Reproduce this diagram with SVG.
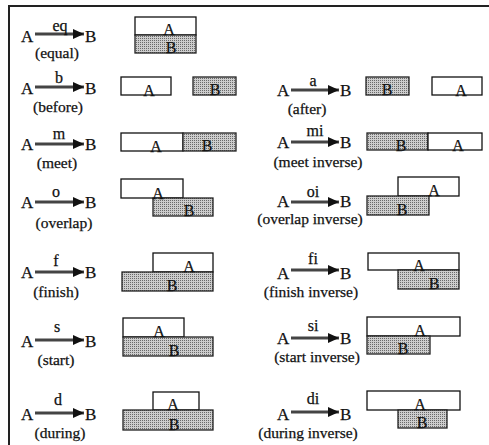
<svg xmlns="http://www.w3.org/2000/svg" width="489" height="445" viewBox="0 0 489 445">
<defs>
<pattern id="dots" width="2" height="2" patternUnits="userSpaceOnUse">
<rect width="2" height="2" fill="#cdcdcd"/>
<rect width="1" height="1" fill="#6a6a6a"/>
</pattern>
<marker id="ah" markerUnits="userSpaceOnUse" markerWidth="12" markerHeight="10" refX="11" refY="5" orient="auto">
<path d="M0,0 L11,5 L0,10 Z" fill="#111"/>
</marker>
</defs>
<style>
text{font-family:"Liberation Serif","Times New Roman",serif;fill:#111;stroke:#111;stroke-width:0.25}
.big{font-size:17px}
.lab{font-size:16px;text-anchor:middle}
.par{font-size:15.5px;text-anchor:middle}
.in{font-size:16px;text-anchor:middle}
.ra{fill:#fff;stroke:#111;stroke-width:1.3}
.rb{fill:url(#dots);stroke:#222;stroke-width:1.3}
.arr{stroke:#444;stroke-width:3.2;fill:none;marker-end:url(#ah)}
.frame{stroke:#222;stroke-width:2;fill:none}
</style>
<path class="frame" d="M9,445 V6 H489"/>
<g id="connectors">
<line class="arr" x1="35" y1="34" x2="84" y2="34"/>
<line class="arr" x1="35" y1="87" x2="84" y2="87"/>
<line class="arr" x1="35" y1="144" x2="84" y2="144"/>
<line class="arr" x1="35" y1="202" x2="84" y2="202"/>
<line class="arr" x1="35" y1="272" x2="84" y2="272"/>
<line class="arr" x1="35" y1="340" x2="84" y2="340"/>
<line class="arr" x1="35" y1="413" x2="84" y2="413"/>
<line class="arr" x1="291" y1="90" x2="339" y2="90"/>
<line class="arr" x1="291" y1="142" x2="339" y2="142"/>
<line class="arr" x1="291" y1="202" x2="339" y2="202"/>
<line class="arr" x1="291" y1="270" x2="339" y2="270"/>
<line class="arr" x1="291" y1="338" x2="339" y2="338"/>
<line class="arr" x1="291" y1="412" x2="339" y2="412"/>
</g>
<g id="eq">
<text class="big" x="21" y="42">A</text><text class="lab" x="60" y="31">eq</text><text class="big" x="85" y="42">B</text>
<text class="par" x="57" y="58">(equal)</text>
<rect class="ra" x="135" y="17" width="61" height="18"/><rect class="rb" x="135" y="35" width="61" height="18"/>
<text class="in" x="169" y="35">A</text><text class="in" x="171" y="53">B</text>
</g>
<g id="before">
<text class="big" x="21" y="94">A</text><text class="lab" x="59" y="83">b</text><text class="big" x="85" y="94">B</text>
<text class="par" x="58" y="112">(before)</text>
<rect class="ra" x="121" y="77" width="50" height="18"/><rect class="rb" x="193" y="77" width="43" height="18"/>
<text class="in" x="149" y="96">A</text><text class="in" x="215" y="95">B</text>
</g>
<g id="meet">
<text class="big" x="21" y="150">A</text><text class="lab" x="59" y="139">m</text><text class="big" x="85" y="150">B</text>
<text class="par" x="57" y="168">(meet)</text>
<rect class="ra" x="121" y="133" width="62" height="18"/><rect class="rb" x="183" y="133" width="53" height="18"/>
<text class="in" x="156" y="152">A</text><text class="in" x="207" y="151">B</text>
</g>
<g id="overlap">
<text class="big" x="21" y="208">A</text><text class="lab" x="56" y="197">o</text><text class="big" x="85" y="208">B</text>
<text class="par" x="64" y="228">(overlap)</text>
<rect class="ra" x="121" y="179" width="62" height="19"/><rect class="rb" x="153" y="198" width="60" height="18"/>
<text class="in" x="158" y="199">A</text><text class="in" x="189" y="216">B</text>
</g>
<g id="finish">
<text class="big" x="21" y="278">A</text><text class="lab" x="56" y="266">f</text><text class="big" x="85" y="278">B</text>
<text class="par" x="56" y="297">(finish)</text>
<rect class="ra" x="153" y="253" width="60" height="19"/><rect class="rb" x="122" y="272" width="91" height="19"/>
<text class="in" x="189" y="272">A</text><text class="in" x="172" y="291">B</text>
</g>
<g id="start">
<text class="big" x="21" y="347">A</text><text class="lab" x="57" y="332">s</text><text class="big" x="85" y="347">B</text>
<text class="par" x="56" y="365">(start)</text>
<rect class="ra" x="123" y="318" width="61" height="19"/><rect class="rb" x="123" y="337" width="90" height="19"/>
<text class="in" x="159" y="337">A</text><text class="in" x="174" y="356">B</text>
</g>
<g id="during">
<text class="big" x="21" y="420">A</text><text class="lab" x="58" y="405">d</text><text class="big" x="85" y="420">B</text>
<text class="par" x="60" y="438">(during)</text>
<rect class="ra" x="153" y="392" width="46" height="18"/><rect class="rb" x="123" y="410" width="90" height="20"/>
<text class="in" x="173" y="410">A</text><text class="in" x="174" y="430">B</text>
</g>
<g id="after">
<text class="big" x="277" y="96">A</text><text class="lab" x="313" y="86">a</text><text class="big" x="340" y="96">B</text>
<text class="par" x="307" y="114">(after)</text>
<rect class="rb" x="366" y="77" width="43" height="18"/><rect class="ra" x="432" y="77" width="50" height="18"/>
<text class="in" x="387" y="95">B</text><text class="in" x="461" y="96">A</text>
</g>
<g id="meet-inverse">
<text class="big" x="277" y="148">A</text><text class="lab" x="315" y="136">mi</text><text class="big" x="340" y="148">B</text>
<text class="par" x="318" y="167">(meet inverse)</text>
<rect class="rb" x="367" y="133" width="61" height="17"/><rect class="ra" x="428" y="133" width="54" height="17"/>
<text class="in" x="401" y="151">B</text><text class="in" x="458" y="151">A</text>
</g>
<g id="overlap-inverse">
<text class="big" x="277" y="207">A</text><text class="lab" x="313" y="197">oi</text><text class="big" x="340" y="207">B</text>
<text class="par" x="310" y="224">(overlap inverse)</text>
<rect class="ra" x="398" y="177" width="61" height="19"/><rect class="rb" x="367" y="196" width="62" height="19"/>
<text class="in" x="434" y="196">A</text><text class="in" x="402" y="215">B</text>
</g>
<g id="finish-inverse">
<text class="big" x="277" y="279">A</text><text class="lab" x="313" y="264">fi</text><text class="big" x="340" y="279">B</text>
<text class="par" x="311" y="297">(finish inverse)</text>
<rect class="ra" x="368" y="253" width="91" height="17"/><rect class="rb" x="398" y="270" width="61" height="19"/>
<text class="in" x="419" y="271">A</text><text class="in" x="434" y="289">B</text>
</g>
<g id="start-inverse">
<text class="big" x="277" y="344">A</text><text class="lab" x="313" y="331">si</text><text class="big" x="340" y="344">B</text>
<text class="par" x="317" y="362">(start inverse)</text>
<rect class="ra" x="367" y="317" width="93" height="19"/><rect class="rb" x="367" y="336" width="63" height="18"/>
<text class="in" x="420" y="336">A</text><text class="in" x="403" y="354">B</text>
</g>
<g id="during-inverse">
<text class="big" x="277" y="420">A</text><text class="lab" x="313" y="404">di</text><text class="big" x="340" y="420">B</text>
<text class="par" x="308" y="438">(during inverse)</text>
<rect class="ra" x="367" y="391" width="93" height="19"/><rect class="rb" x="398" y="410" width="49" height="18"/>
<text class="in" x="420" y="410">A</text><text class="in" x="422" y="428">B</text>
</g>
</svg>
